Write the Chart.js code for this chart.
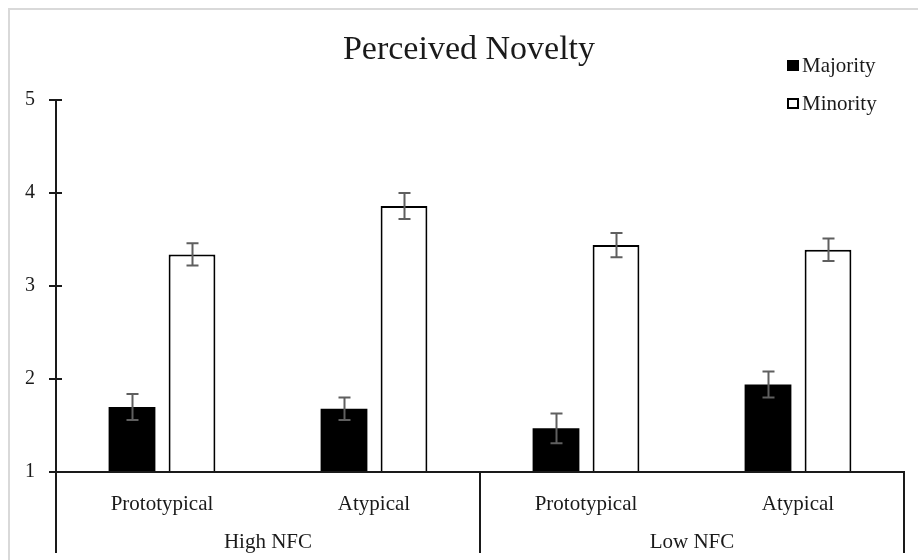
<!DOCTYPE html>
<html>
<head>
<meta charset="utf-8">
<title>Perceived Novelty</title>
<script src="https://cdn.jsdelivr.net/npm/chart.js@4.4.0/dist/chart.umd.min.js"></script>
<style>
    html, body { margin: 0; padding: 0; background: #fff; }
    #wrap { position: relative; width: 918px; height: 560px; }
</style>
</head>
<body>
<div id="wrap"><canvas id="noveltyChart"></canvas></div>
<script>
// данные графика
const titleText = 'Perceived Novelty';
const conditions = ['Prototypical', 'Atypical', 'Prototypical', 'Atypical'];
const groups = ['High NFC', 'Low NFC'];
const seriesNames = ['Majority', 'Minority'];
const majorityValues = [1.70, 1.68, 1.47, 1.94];
const majorityErrors = [0.14, 0.12, 0.16, 0.14];
const minorityValues = [3.34, 3.86, 3.44, 3.39];
const minorityErrors = [0.12, 0.14, 0.13, 0.12];
const yMin = 1;
const yMax = 5;

const FONT = "'Liberation Serif', 'Times New Roman', serif";
const INK = '#1a1a1a';
const ERR_COLOR = '#5f5f5f';

// Рамка диаграммы (светло-серая, как в Excel)
const framePlugin = {
    id: 'frame',
    beforeDraw(chart) {
        const ctx = chart.ctx;
        ctx.save();
        ctx.fillStyle = '#fff';
        ctx.fillRect(0, 0, chart.width, chart.height);
        ctx.strokeStyle = '#d9d9d9';
        ctx.lineWidth = 2;
        ctx.beginPath();
        ctx.moveTo(9, chart.height);
        ctx.lineTo(9, 9);
        ctx.lineTo(chart.width, 9);
        ctx.stroke();
        ctx.restore();
    }
};

// Планки погрешностей
const errorBarsPlugin = {
    id: 'errorBars',
    afterDatasetsDraw(chart) {
        const ctx = chart.ctx;
        const yScale = chart.scales.y;
        ctx.save();
        ctx.strokeStyle = ERR_COLOR;
        ctx.lineWidth = 2;
        chart.data.datasets.forEach((ds, di) => {
            const meta = chart.getDatasetMeta(di);
            meta.data.forEach((bar, i) => {
                const v = ds.data[i];
                const e = ds.errors[i];
                const top = yScale.getPixelForValue(v + e);
                const bottom = yScale.getPixelForValue(v - e);
                const x = Math.round(bar.x) + 0.5;
                ctx.beginPath();
                ctx.moveTo(x, top);
                ctx.lineTo(x, bottom);
                ctx.moveTo(x - 6, top);
                ctx.lineTo(x + 6, top);
                ctx.moveTo(x - 6, bottom);
                ctx.lineTo(x + 6, bottom);
                ctx.stroke();
            });
        });
        ctx.restore();
    }
};

// Заголовок, легенда, второй уровень подписей оси X
const decorPlugin = {
    id: 'decor',
    afterDraw(chart) {
        const ctx = chart.ctx;
        const area = chart.chartArea;
        const xScale = chart.scales.x;
        const yScale = chart.scales.y;
        const floor = 553;
        ctx.save();
        ctx.strokeStyle = INK;
        ctx.lineWidth = 2;

        // внутренние половинки делений оси Y
        yScale.ticks.forEach(t => {
            const y = Math.round(yScale.getPixelForValue(t.value));
            ctx.beginPath();
            ctx.moveTo(area.left, y);
            ctx.lineTo(area.left + 6, y);
            ctx.stroke();
        });

        // разделители групп
        const mid = (xScale.getPixelForValue(1) + xScale.getPixelForValue(2)) / 2;
        const bounds = [area.left, Math.round(mid), area.right];
        bounds.forEach(x => {
            ctx.beginPath();
            ctx.moveTo(x, area.bottom);
            ctx.lineTo(x, floor);
            ctx.stroke();
        });

        ctx.fillStyle = INK;
        ctx.font = '21px ' + FONT;
        ctx.textAlign = 'center';
        ctx.textBaseline = 'alphabetic';
        groups.forEach((g, i) => {
            ctx.fillText(g, (bounds[i] + bounds[i + 1]) / 2, 548);
        });

        // заголовок
        ctx.font = '34px ' + FONT;
        ctx.fillText(titleText, 469, 59);

        // легенда
        ctx.font = '21px ' + FONT;
        ctx.textAlign = 'left';
        chart.data.datasets.forEach((ds, i) => {
            const cy = 65 + i * 38;
            if (ds.backgroundColor === '#000000') {
                ctx.fillStyle = '#000';
                ctx.fillRect(787, cy - 5, 12, 11);
            } else {
                ctx.strokeStyle = '#000';
                ctx.lineWidth = 2;
                ctx.strokeRect(788, cy - 4, 10, 9);
            }
            ctx.fillStyle = INK;
            ctx.fillText(ds.label, 802, cy + 7);
        });
        ctx.restore();
    }
};

const ctx = document.getElementById('noveltyChart');
new Chart(ctx, {
    type: 'bar',
    data: {
        labels: conditions,
        datasets: [
            {
                label: seriesNames[0],
                data: majorityValues,
                errors: majorityErrors,
                backgroundColor: '#000000',
                borderWidth: 0
            },
            {
                label: seriesNames[1],
                data: minorityValues,
                errors: minorityErrors,
                backgroundColor: '#ffffff',
                borderColor: '#000000',
                borderWidth: 2
            }
        ]
    },
    options: {
        responsive: true,
        maintainAspectRatio: false,
        animation: false,
        devicePixelRatio: 1,
        datasets: {
            bar: {
                categoryPercentage: 0.566,
                barPercentage: 0.78,
                base: yMin
            }
        },
        layout: {
            padding: { top: 100, right: 14, bottom: 0, left: 0 }
        },
        plugins: {
            legend: { display: false },
            title: { display: false },
            tooltip: { enabled: false }
        },
        scales: {
            x: {
                offset: true,
                grid: { display: false },
                border: { display: true, color: INK, width: 2 },
                ticks: {
                    padding: 12,
                    color: INK,
                    font: { family: FONT, size: 21 }
                },
                afterFit: s => { s.height = 88; }
            },
            y: {
                min: yMin,
                max: yMax,
                grid: {
                    display: true,
                    drawOnChartArea: false,
                    drawTicks: true,
                    tickLength: 7,
                    color: INK,
                    lineWidth: 2
                },
                border: { display: true, color: INK, width: 2 },
                ticks: {
                    stepSize: 1,
                    padding: 14,
                    color: INK,
                    font: { family: FONT, size: 20 }
                },
                afterFit: s => { s.width = 56; }
            }
        }
    },
    plugins: [framePlugin, errorBarsPlugin, decorPlugin]
});
</script>
</body>
</html>
